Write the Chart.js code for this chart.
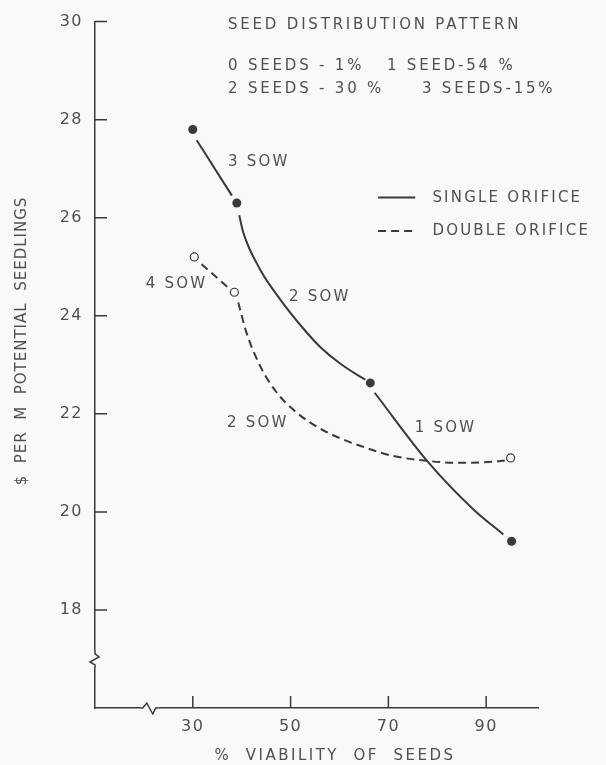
<!DOCTYPE html>
<html>
<head>
<meta charset="utf-8">
<script src="https://cdn.jsdelivr.net/npm/chart.js@4.4.1/dist/chart.umd.min.js"></script>
<style>
  html, body { margin: 0; padding: 0; background: #f9f9f7; }
  #wrap { width: 606px; height: 765px; }
</style>
</head>
<body>
<div id="wrap"><canvas id="seedChart" width="606" height="765"></canvas></div>
<script>
// measured points
const singleX = [30, 39, 66.3, 95.2];
const singleY = [27.8, 26.3, 22.63, 19.4];
const doubleX = [30.3, 38.5, 95];
const doubleY = [25.2, 24.48, 21.1];

// traced curves, null = pen lifted
const singleCurveX = [30.8, 38.0, null, 39.5, 40.35, 43.8, 47.9, 52.6, 56.0, 60.2, 64.2, 65.3, null, 67.2, 78.0, 87.4, 93.5];
const singleCurveY = [27.58, 26.45, null, 26.05, 25.69, 24.94, 24.33, 23.74, 23.37, 23.02, 22.76, 22.70, null, 22.43, 21.03, 20.05, 19.54];
const doubleCurveX = [31.8, 37.3, null, 39.3, 41.0, 43.8, 47.2, 51.3, 56.0, 60.2, 65.6, 71.0, 78.0, 84.0, 92.2, 93.8];
const doubleCurveY = [25.05, 24.57, null, 24.27, 23.65, 22.97, 22.43, 22.02, 21.70, 21.50, 21.30, 21.14, 21.04, 21.0, 21.03, 21.05];

const xTicks = [30, 50, 70, 90];
const yTicks = [18, 20, 22, 24, 26, 28, 30];

const headerLines = ["SEED DISTRIBUTION PATTERN", "0 SEEDS - 1%   1 SEED-54 %", "2 SEEDS - 30 %     3 SEEDS-15%"];
const sowLabels = ["3 SOW", "2 SOW", "4 SOW", "2 SOW", "1 SOW"];
const sowX = [37.2, 49.7, 20.4, 37.0, 75.4];
const sowY = [27.14, 24.39, 24.65, 21.82, 21.71];
const legendLabels = ["SINGLE ORIFICE", "DOUBLE ORIFICE"];

const ink = "#3a3a3a";
const letterInk = "#505050";
const paper = "#f9f9f7";

function toPoints(xs, ys) {
  return xs.map((x, i) => ({ x: x, y: ys[i] }));
}

function segments(xs, ys) {
  const out = [];
  let cur = [];
  xs.forEach((x, i) => {
    if (x === null) { out.push(cur); cur = []; }
    else cur.push({ x: x, y: ys[i] });
  });
  out.push(cur);
  return out;
}

const datasets = [];
segments(singleCurveX, singleCurveY).forEach(seg => {
  datasets.push({
    data: seg, borderColor: ink, borderWidth: 2, pointRadius: 0,
    cubicInterpolationMode: "monotone", fill: false
  });
});
segments(doubleCurveX, doubleCurveY).forEach(seg => {
  datasets.push({
    data: seg, borderColor: ink, borderWidth: 2, borderDash: [8, 5], pointRadius: 0,
    cubicInterpolationMode: "monotone", fill: false
  });
});
datasets.push({
  data: toPoints(singleX, singleY), showLine: false,
  pointRadius: 4.5, pointBackgroundColor: ink, pointBorderColor: ink, pointBorderWidth: 0
});
datasets.push({
  data: toPoints(doubleX, doubleY), showLine: false,
  pointRadius: 4, pointBackgroundColor: paper, pointBorderColor: ink, pointBorderWidth: 1.2
});

const decor = {
  id: "decor",
  beforeDraw(chart) {
    const ctx = chart.ctx;
    ctx.letterSpacing = "1.5px";
    ctx.save();
    ctx.fillStyle = paper;
    ctx.fillRect(0, 0, chart.width, chart.height);
    ctx.restore();
  },
  afterDraw(chart) {
    const ctx = chart.ctx;
    const xs = chart.scales.x, ys = chart.scales.y;
    const a = chart.chartArea;
    ctx.save();
    ctx.strokeStyle = ink;
    ctx.lineWidth = 1.5;
    // inward ticks
    ctx.beginPath();
    yTicks.forEach(v => {
      const p = ys.getPixelForValue(v);
      ctx.moveTo(a.left, p); ctx.lineTo(a.left + 12, p);
    });
    xTicks.forEach(v => {
      const p = xs.getPixelForValue(v);
      ctx.moveTo(p, a.bottom); ctx.lineTo(p, a.bottom - 12);
    });
    ctx.stroke();

    // axis breaks
    const by = ys.getPixelForValue(17);
    ctx.fillStyle = paper;
    ctx.fillRect(a.left - 2, by - 9, 4, 18);
    ctx.beginPath();
    ctx.moveTo(a.left, by - 9);
    ctx.lineTo(a.left, by - 5);
    ctx.lineTo(a.left + 4, by - 2);
    ctx.lineTo(a.left - 5, by + 3);
    ctx.lineTo(a.left, by + 6);
    ctx.lineTo(a.left, by + 9);
    ctx.stroke();
    const bx = xs.getPixelForValue(21.2);
    ctx.fillRect(bx - 9, a.bottom - 2, 18, 4);
    ctx.beginPath();
    ctx.moveTo(bx - 9, a.bottom);
    ctx.lineTo(bx - 7, a.bottom);
    ctx.lineTo(bx - 3, a.bottom - 5);
    ctx.lineTo(bx + 3, a.bottom + 6);
    ctx.lineTo(bx + 6, a.bottom);
    ctx.lineTo(bx + 9, a.bottom);
    ctx.stroke();

    // lettering
    ctx.fillStyle = letterInk;
    ctx.font = "15px 'DejaVu Sans'";
    ctx.textBaseline = "middle";
    ctx.textAlign = "left";
    ctx.letterSpacing = "2.8px";
    const hx = xs.getPixelForValue(37.2);
    [29.92, 29.1, 28.63].forEach((v, i) => {
      ctx.fillText(headerLines[i], hx, ys.getPixelForValue(v));
    });
    ctx.letterSpacing = "2.2px";
    sowLabels.forEach((s, i) => {
      ctx.fillText(s, xs.getPixelForValue(sowX[i]), ys.getPixelForValue(sowY[i]));
    });

    // legend
    const lx0 = xs.getPixelForValue(67.9), lx1 = xs.getPixelForValue(75.5), tx = xs.getPixelForValue(79.0);
    const ly = [ys.getPixelForValue(26.41), ys.getPixelForValue(25.73)];
    ctx.lineWidth = 2;
    ctx.beginPath(); ctx.moveTo(lx0, ly[0]); ctx.lineTo(lx1, ly[0]); ctx.stroke();
    ctx.setLineDash([8, 5]);
    ctx.beginPath(); ctx.moveTo(lx0, ly[1]); ctx.lineTo(lx1, ly[1]); ctx.stroke();
    ctx.setLineDash([]);
    ctx.fillText(legendLabels[0], tx, ly[0]);
    ctx.fillText(legendLabels[1], tx, ly[1]);

    // axis titles
    ctx.letterSpacing = "2.5px";
    ctx.textAlign = "center";
    ctx.fillText("%  VIABILITY  OF  SEEDS", 335, 756);
    ctx.letterSpacing = "1px";
    ctx.translate(22, 341);
    ctx.rotate(-Math.PI / 2);
    ctx.fillText("$  PER  M  POTENTIAL  SEEDLINGS", 0, 0);
    ctx.restore();
  }
};

new Chart(document.getElementById("seedChart"), {
  type: "line",
  data: { datasets: datasets },
  options: {
    responsive: false,
    animation: false,
    layout: { padding: { top: 19, right: 68, left: 0, bottom: 0 } },
    plugins: { legend: { display: false }, tooltip: { enabled: false } },
    scales: {
      x: {
        type: "linear", min: 10, max: 100.6,
        afterBuildTicks: s => { s.ticks = xTicks.map(v => ({ value: v })); },
        afterFit: s => { s.height = 57; },
        grid: { display: false, drawTicks: false },
        border: { display: true, color: ink, width: 1.5 },
        ticks: { padding: 9, color: letterInk, font: { family: "DejaVu Sans", size: 16 }, maxRotation: 0 }
      },
      y: {
        type: "linear", min: 16, max: 30,
        afterBuildTicks: s => { s.ticks = yTicks.map(v => ({ value: v })); },
        afterFit: s => { s.width = 95; },
        grid: { display: false, drawTicks: false },
        border: { display: true, color: ink, width: 1.5 },
        ticks: { padding: 12, color: letterInk, font: { family: "DejaVu Sans", size: 16 } }
      }
    }
  },
  plugins: [decor]
});
</script>
</body>
</html>
